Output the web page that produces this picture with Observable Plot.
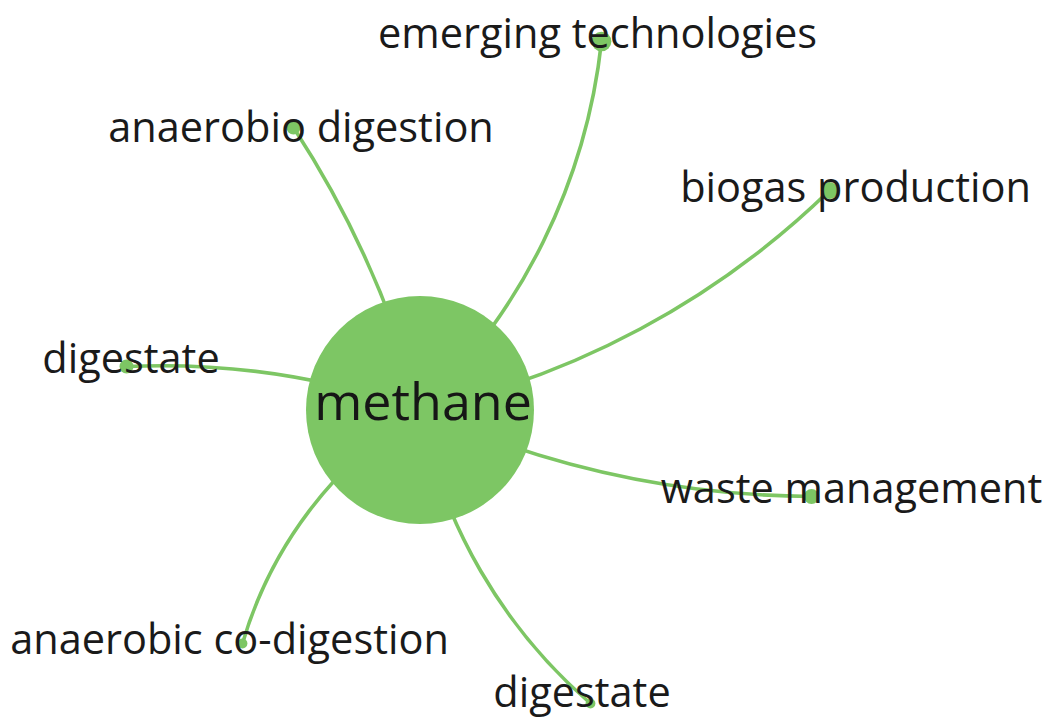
<!DOCTYPE html>
<html><head><meta charset="utf-8">
<script src="https://cdn.jsdelivr.net/npm/d3@7"></script>
<script src="https://cdn.jsdelivr.net/npm/@observablehq/plot@0.6"></script>
<style>html,body{margin:0;padding:0;background:#fff;overflow:hidden}</style>
</head><body><div id="chart"></div>
<script>
// Term map (VOSviewer-style) — map coordinates, y grows downward
const terms = ["methane","emerging technologies","anaerobio digestion","biogas production","digestate","waste management","anaerobic co-digestion","digestate"];
const nodeX = [419.5, 601, 293, 829, 126, 811, 242, 590];
const nodeY = [409.5, 41, 127, 190, 366, 496, 643, 703];
const nodeWeight = [160, 1.2, 0.6, 0.9, 0.6, 0.7, 0.3, 0.3];
const labelX = [422.5, 597, 300.5, 855, 130.5, 851, 229, 581.5];
const labelY = [403, 34, 128, 188, 359, 489, 640, 693];
const linkSource = [0, 0, 0, 0, 0, 0, 0];
const linkTarget = [1, 2, 3, 4, 5, 6, 7];
const linkBend = [-20, -9, -16, -11, -12, -21, -19];

const nodes = terms.map((t, i) => ({term: t, x: nodeX[i], y: nodeY[i], w: nodeWeight[i], lx: labelX[i], ly: labelY[i], main: i === 0}));
const links = linkSource.map((s, i) => ({
  x1: nodeX[s], y1: nodeY[s], x2: nodeX[linkTarget[i]], y2: nodeY[linkTarget[i]], bend: linkBend[i]
}));

const green = "#7dc664";
const font = "'Open Sans', 'Noto Sans', sans-serif";

const chart = Plot.plot({
  width: 1044,
  height: 717,
  margin: 0,
  x: {domain: [0, 1044], range: [0, 1044], axis: null},
  y: {domain: [0, 717], range: [0, 717], axis: null},
  r: {type: "sqrt", domain: [0, 160], range: [0, 114]},
  style: {fontFamily: font, background: "#fff", overflow: "visible"},
  marks: [
    ...links.map(l => Plot.arrow([l], {
      x1: "x1", y1: "y1", x2: "x2", y2: "y2",
      bend: l.bend, headLength: 0, stroke: green, strokeWidth: 3.6, strokeOpacity: 1
    })),
    Plot.dot(nodes, {x: "x", y: "y", r: "w", fill: green, stroke: null}),
    Plot.text(nodes.filter(d => !d.main), {x: "lx", y: "ly", text: "term", fontSize: 41.5, fontWeight: 400, fill: "#1a1a1a", textAnchor: "middle", lineAnchor: "middle"}),
    Plot.text(nodes.filter(d => d.main), {x: "lx", y: "ly", text: "term", fontSize: 52, fontWeight: 400, fill: "#161616", textAnchor: "middle", lineAnchor: "middle"})
  ]
});
document.getElementById("chart").appendChild(chart);
</script>
</body></html>
